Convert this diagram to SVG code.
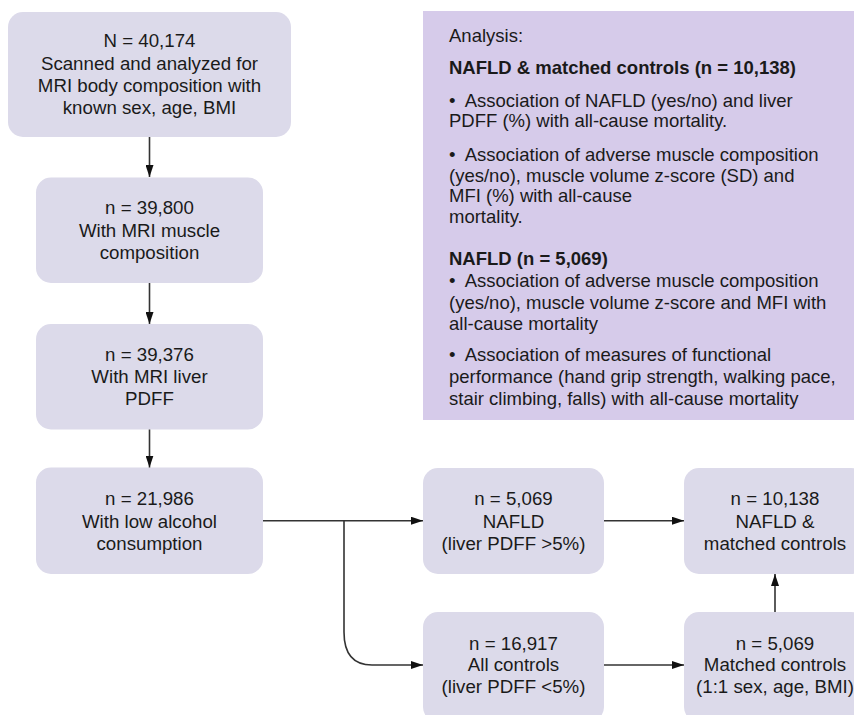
<svg xmlns="http://www.w3.org/2000/svg" width="854" height="715" viewBox="0 0 854 715">
<defs>
<style>
.box{fill:#dcdaea;}
.t{font-family:"Liberation Sans",Arial,sans-serif;font-size:18.7px;fill:#1a1a1a;text-anchor:middle;}
.p{font-family:"Liberation Sans",Arial,sans-serif;font-size:18.5px;fill:#1a1a1a;white-space:pre;}
.b{font-weight:bold;}
.c{fill:none;stroke:#333;stroke-width:1.6;}
</style>
<marker id="ah" viewBox="0 0 12 8" refX="12" refY="4" markerWidth="12" markerHeight="8" markerUnits="userSpaceOnUse" orient="auto">
<path d="M0,0 L12,4 L0,8 Z" fill="#111"/>
</marker>
</defs>
<rect width="854" height="715" fill="#fff"/>

<g id="analysis">
<rect x="423" y="11" width="440" height="409" fill="#d6cbea"/>
<text class="p" x="449" y="42">Analysis:</text>
<text class="p b" x="449" y="74">NAFLD &amp; matched controls (n = 10,138)</text>
<text class="p" x="449" y="107">•  Association of NAFLD (yes/no) and liver</text>
<text class="p" x="449" y="127">PDFF (%) with all-cause mortality.</text>
<text class="p" x="449" y="161">•  Association of adverse muscle composition</text>
<text class="p" x="449" y="182">(yes/no), muscle volume z-score (SD) and</text>
<text class="p" x="449" y="202">MFI (%) with all-cause</text>
<text class="p" x="449" y="223">mortality.</text>
<text class="p b" x="449" y="265">NAFLD (n = 5,069)</text>
<text class="p" x="449" y="287">•  Association of adverse muscle composition</text>
<text class="p" x="449" y="309">(yes/no), muscle volume z-score and MFI with</text>
<text class="p" x="449" y="330">all-cause mortality</text>
<text class="p" x="449" y="361">•  Association of measures of functional</text>
<text class="p" x="449" y="383">performance (hand grip strength, walking pace,</text>
<text class="p" x="449" y="405">stair climbing, falls) with all-cause mortality</text>
</g>

<g id="n1">
<rect class="box" x="8" y="12" width="283" height="125" rx="15"/>
<text class="t" x="149.5" y="47">N = 40,174</text>
<text class="t" x="149.5" y="69.5">Scanned and analyzed for</text>
<text class="t" x="149.5" y="92">MRI body composition with</text>
<text class="t" x="149.5" y="114">known sex, age, BMI</text>
</g>
<g id="n2">
<rect class="box" x="36" y="177.5" width="227" height="105.5" rx="15"/>
<text class="t" x="149.5" y="214">n = 39,800</text>
<text class="t" x="149.5" y="236.5">With MRI muscle</text>
<text class="t" x="149.5" y="259">composition</text>
</g>
<g id="n3">
<rect class="box" x="36" y="324" width="227" height="105.5" rx="15"/>
<text class="t" x="149.5" y="361">n = 39,376</text>
<text class="t" x="149.5" y="383">With MRI liver</text>
<text class="t" x="149.5" y="405">PDFF</text>
</g>
<g id="n4">
<rect class="box" x="36" y="467.5" width="227" height="106.5" rx="15"/>
<text class="t" x="149.5" y="505">n = 21,986</text>
<text class="t" x="149.5" y="527.5">With low alcohol</text>
<text class="t" x="149.5" y="549.5">consumption</text>
</g>
<g id="n5">
<rect class="box" x="423" y="468" width="181" height="106" rx="15"/>
<text class="t" x="513.5" y="505">n = 5,069</text>
<text class="t" x="513.5" y="527.5">NAFLD</text>
<text class="t" x="513.5" y="549.5">(liver PDFF &gt;5%)</text>
</g>
<g id="n6">
<rect class="box" x="423" y="612" width="181" height="110" rx="15"/>
<text class="t" x="513.5" y="649.5">n = 16,917</text>
<text class="t" x="513.5" y="671">All controls</text>
<text class="t" x="513.5" y="692.5">(liver PDFF &lt;5%)</text>
</g>
<g id="n7">
<rect class="box" x="684" y="468" width="182" height="106" rx="15"/>
<text class="t" x="775" y="505">n = 10,138</text>
<text class="t" x="775" y="527.5">NAFLD &amp;</text>
<text class="t" x="775" y="549.5">matched controls</text>
</g>
<g id="n8">
<rect class="box" x="684" y="612" width="182" height="110" rx="15"/>
<text class="t" x="775" y="649.5">n = 5,069</text>
<text class="t" x="775" y="671">Matched controls</text>
<text class="t" x="775" y="692.5">(1:1 sex, age, BMI)</text>
</g>

<g id="connectors">
<path class="c" d="M149.5,137 V177" marker-end="url(#ah)"/>
<path class="c" d="M149.5,283 V324" marker-end="url(#ah)"/>
<path class="c" d="M149.5,429.5 V467.5" marker-end="url(#ah)"/>
<path class="c" d="M263,520.7 H423" marker-end="url(#ah)"/>
<path class="c" d="M344,520.7 V632 Q344,665 372,665 H423" marker-end="url(#ah)"/>
<path class="c" d="M604,520.7 H684" marker-end="url(#ah)"/>
<path class="c" d="M604,665 H684" marker-end="url(#ah)"/>
<path class="c" d="M775,612 V574" marker-end="url(#ah)"/>
</g>
</svg>
